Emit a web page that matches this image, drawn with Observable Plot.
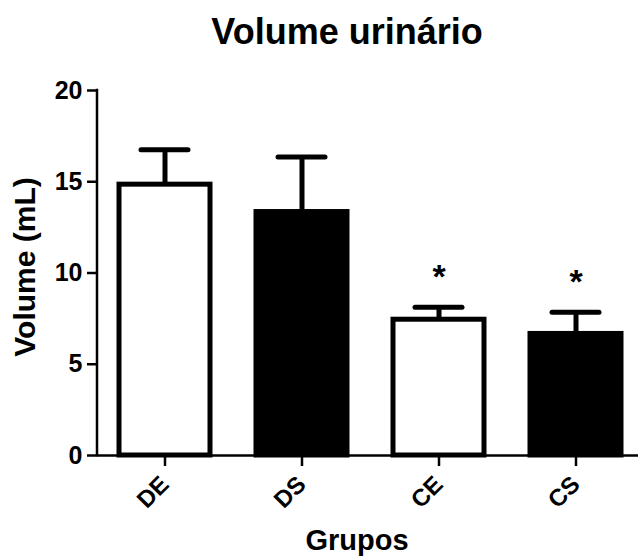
<!DOCTYPE html>
<html>
<head>
<meta charset="utf-8">
<script src="https://cdn.jsdelivr.net/npm/d3@7"></script>
<script src="https://cdn.jsdelivr.net/npm/@observablehq/plot@0.6"></script>
<style>
  html, body { margin: 0; padding: 0; background: #fff; }
  #wrap { width: 638px; position: relative; font-family: "Liberation Sans", Arial, sans-serif; }
  #title { height: 60px; position: relative; }
  #title span { position: absolute; left: 347px; top: 14px; transform: translateX(-50%);
    font-size: 36px; line-height: 36px; font-weight: bold; white-space: nowrap; color: #000; }
  svg { display: block; }
</style>
</head>
<body>
<div id="wrap">
  <div id="title"><span>Volume urinário</span></div>
  <div id="chart"></div>
</div>
<script>
const groups = ["DE", "DS", "CE", "CS"];
const means = [14.84, 13.34, 7.44, 6.66];
const sems = [1.92, 3.01, 0.69, 1.19];
const fills = ["white", "black", "white", "black"];
const stars = ["", "", "*", "*"];
const yTicks = [0, 5, 10, 15, 20];

const data = groups.map((g, i) => ({group: g, mean: means[i], sem: sems[i], top: means[i] + sems[i], fill: fills[i], star: stars[i]}));

const starSize = 34;

const yAxisLine = (index, scales, values, dimensions) => {
  const ns = "http://www.w3.org/2000/svg";
  const line = document.createElementNS(ns, "line");
  line.setAttribute("x1", dimensions.marginLeft);
  line.setAttribute("x2", dimensions.marginLeft);
  line.setAttribute("y1", scales.y(0) + 1.25);
  line.setAttribute("y2", scales.y(20) - 1.25);
  line.setAttribute("stroke", "black");
  line.setAttribute("stroke-width", 2.5);
  return line;
};

const chart = Plot.plot({
  width: 638,
  height: 496,
  marginTop: 30,
  marginBottom: 101,
  marginLeft: 97,
  marginRight: 0,
  style: {fontFamily: "'Liberation Sans', Arial, sans-serif", color: "black", background: "white"},
  x: {type: "band", domain: groups, range: [97, 643], paddingInner: 0.333, paddingOuter: 0.155, label: null},
  y: {domain: [0, 20], label: null},
  color: {type: "identity"},
  marks: [
    Plot.ruleX(data, {x: "group", y1: "mean", y2: "top", stroke: "black", strokeWidth: 5}),
    Plot.tickY(data, {x: "group", y: "top", stroke: "black", strokeWidth: 5, insetLeft: 22, insetRight: 22, strokeLinecap: "round"}),
    Plot.barY(data, {x: "group", y: "mean", fill: "fill", stroke: "black", strokeWidth: 5}),
    Plot.ruleY([0], {stroke: "black", strokeWidth: 2.5}),
    yAxisLine,
    Plot.axisY({ticks: yTicks, tickSize: 10, tickPadding: 5, fontSize: 25, fontWeight: "bold", strokeWidth: 2.5, label: null}),
    Plot.axisX({tickSize: 11, tickPadding: 14, tickRotate: -45, fontSize: 24, fontWeight: "bold", strokeWidth: 2.5, label: null}),
    Plot.text(data.filter(d => d.star), {x: "group", y: "top", text: "star", lineAnchor: "bottom", dy: -(39 - 0.575 * starSize), fontSize: starSize, fontWeight: "bold"}),
    Plot.text(["Volume (mL)"], {text: d => d, frameAnchor: "left", textAnchor: "middle", rotate: -90, dx: -72, dy: -6, fontSize: 30, fontWeight: "bold", lineAnchor: "middle"}),
    Plot.text(["Grupos"], {text: d => d, frameAnchor: "bottom", textAnchor: "middle", dx: -11, dy: 85, fontSize: 29, fontWeight: "bold", lineAnchor: "middle"})
  ]
});
document.getElementById("chart").appendChild(chart);
</script>
</body>
</html>
